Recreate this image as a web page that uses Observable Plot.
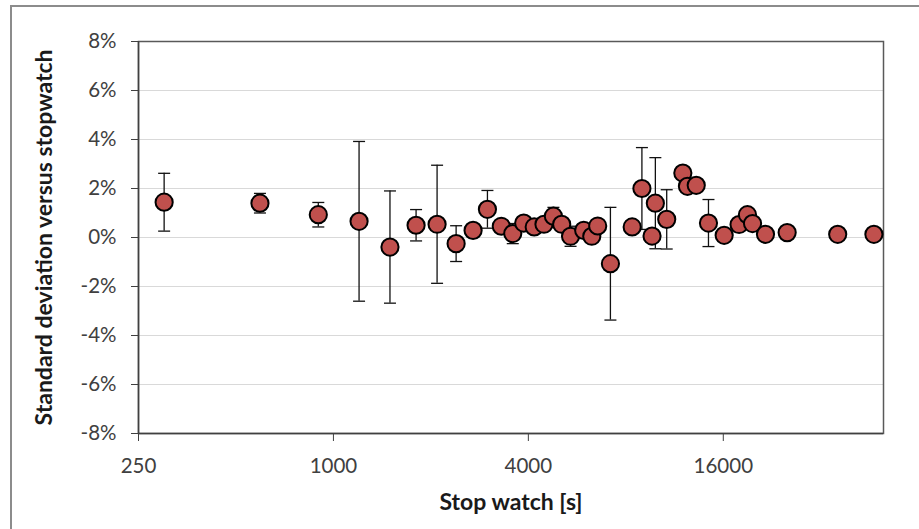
<!DOCTYPE html>
<html>
<head>
<meta charset="utf-8">
<script src="https://cdn.jsdelivr.net/npm/d3@7"></script>
<script src="https://cdn.jsdelivr.net/npm/@observablehq/plot@0.6"></script>
<style>
  html, body { margin: 0; padding: 0; background: #fff; overflow: hidden; }
  #wrap { position: relative; width: 919px; height: 529px; }
  #border { position: absolute; left: 10px; top: 5px; width: 1000px; height: 1000px;
            border-left: 2px solid #8c8c8c; border-top: 2px solid #8c8c8c; box-sizing: border-box; }
  #chart { position: absolute; left: 0; top: 0; }
</style>
</head>
<body>
<div id="wrap"><div id="border"></div><div id="chart"></div></div>
<script>
// Stopwatch duration (s) for each run
const stopwatch = [300, 593, 898, 1200, 1495, 1800, 2090, 2393, 2700, 2990,
  3300, 3580, 3870, 4170, 4470, 4780, 5070, 5400, 5930, 6280,
  6550, 7170, 8370, 8970, 9640, 9870, 10700, 12000, 12400, 13200,
  14400, 16100, 17900, 19000, 19700, 21600, 25200, 36100, 46700];

// Deviation versus stopwatch (%)
const deviation = [1.44, 1.40, 0.93, 0.66, -0.39, 0.50, 0.54, -0.25, 0.29, 1.15,
  0.46, 0.16, 0.59, 0.43, 0.54, 0.87, 0.54, 0.05, 0.29, 0.05,
  0.47, -1.07, 0.43, 2.00, 0.06, 1.40, 0.74, 2.63, 2.09, 2.13,
  0.59, 0.09, 0.53, 0.93, 0.57, 0.13, 0.20, 0.13, 0.13];

// Standard deviation (± %), null where no error bar is shown
const errorBar = [1.18, 0.40, 0.50, 3.26, 2.29, 0.64, 2.41, 0.73, null, 0.77,
  null, 0.41, null, null, null, 0.36, null, 0.41, null, null,
  null, 2.30, null, 1.67, null, 1.86, 1.21, null, null, null,
  0.96, null, null, null, null, null, null, null, null];

const xTicks = [250, 1000, 4000, 16000];
const yTicks = [-8, -6, -4, -2, 0, 2, 4, 6, 8];
const xTitle = "Stop watch [s]";
const yTitle = "Standard deviation versus stopwatch";

const points = stopwatch.map((x, i) => ({x, y: deviation[i], e: errorBar[i]}));
const withErr = points.filter(d => d.e != null);

// Horizontal cap symbol for the error bars; r sets the half-width
const cap = {
  draw(context, size) {
    const w = Math.sqrt(size / Math.PI);
    context.moveTo(-w, 0);
    context.lineTo(w, 0);
  }
};

const chart = Plot.plot({
  width: 919,
  height: 529,
  marginLeft: 138,
  marginRight: 36,
  marginTop: 41,
  marginBottom: 96,
  style: {fontFamily: "Lato, sans-serif", fontSize: "20.5px", color: "#404040", background: "transparent", overflow: "visible"},
  x: {type: "log", domain: [250, 50000], label: null},
  y: {domain: [-8, 8], label: null},
  marks: [
    Plot.gridY(yTicks, {stroke: "#d9d9d9", strokeOpacity: 1, strokeWidth: 1}),
    Plot.frame({stroke: "#595959", strokeWidth: 1.5}),
    Plot.axisY(yTicks, {tickSize: 7, tickPadding: 15, tickFormat: d => d + "%", stroke: "#404040", fill: "#404040", label: null}),
    Plot.axisX(xTicks, {tickSize: 8, tickPadding: 17, tickFormat: d => String(d), stroke: "#404040", fill: "#404040", label: null}),
    Plot.ruleX([250], {stroke: "#404040", strokeWidth: 1.5}),
    Plot.ruleY([-8], {stroke: "#404040", strokeWidth: 1.5}),
    Plot.ruleX(withErr, {x: "x", y1: d => d.y - d.e, y2: d => d.y + d.e, stroke: "#111", strokeWidth: 1.3}),
    Plot.dot(withErr, {x: "x", y: d => d.y + d.e, symbol: cap, r: 6, stroke: "#111", strokeWidth: 1.3}),
    Plot.dot(withErr, {x: "x", y: d => d.y - d.e, symbol: cap, r: 6, stroke: "#111", strokeWidth: 1.3}),
    Plot.dot(points, {x: "x", y: "y", r: 8.6, fill: "#C0504D", stroke: "#000", strokeWidth: 2, fillOpacity: 1}),
    Plot.text([yTitle], {text: d => d, frameAnchor: "left", dx: -94, rotate: -90, textAnchor: "middle", fontWeight: "bold", fontSize: 23, fill: "#1a1a1a"}),
    Plot.text([xTitle], {text: d => d, frameAnchor: "bottom", dy: 76, textAnchor: "middle", fontWeight: "bold", fontSize: 23, fill: "#1a1a1a"})
  ]
});
document.getElementById("chart").appendChild(chart);
</script>
</body>
</html>
